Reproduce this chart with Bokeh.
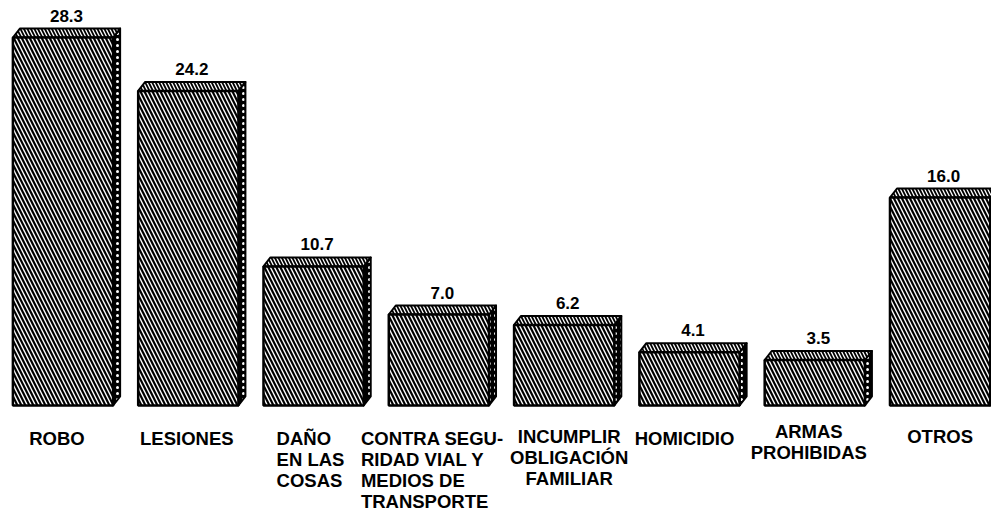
from bokeh.plotting import figure
from bokeh.models import ColumnDataSource
from bokeh.core.properties import value
from bokeh.embed import file_html
from bokeh.resources import INLINE

# ---- data ----
categories = [
    "ROBO",
    "LESIONES",
    "DAÑO\nEN LAS\nCOSAS",
    "CONTRA SEGU-\nRIDAD  VIAL Y\nMEDIOS DE\nTRANSPORTE",
    "INCUMPLIR\nOBLIGACIÓN\nFAMILIAR",
    "HOMICIDIO",
    "ARMAS\nPROHIBIDAS",
    "OTROS",
]
values = [28.3, 24.2, 10.7, 7.0, 6.2, 4.1, 3.5, 16.0]
value_labels = [f"{v:.1f}" for v in values]

# ---- label layout (style, not data) ----
label_align = ["center", "center", "left", "left", "center", "center", "center", "center"]
label_dx = [-6, -1.5, -37, -78, 5, -5, -6, 0]
label_dy = [0, 0, 0, 0, -2, 0, -7, -2]

# ---- geometry of the pseudo-3D boxes ----
PX_X = 125.3          # pixels per x unit
PX_Y = 13.0           # pixels per value unit
W, H = 991, 519
X0 = 62.5             # pixel centre of first bar
BASE = 405            # pixel row of the base line
half_w = 0.4
dx = 7 / PX_X
dy = 9 / PX_Y

xs = list(range(len(values)))

p = figure(width=W, height=H,
           x_range=(-X0 / PX_X, (W - X0) / PX_X),
           y_range=(-(H - BASE) / PX_Y, BASE / PX_Y),
           output_backend="svg", toolbar_location=None,
           x_axis_location=None, y_axis_location=None,
           min_border=0)
p.grid.visible = False
p.outline_line_color = None
p.background_fill_color = "white"

side_xs, side_ys, top_xs, top_ys = [], [], [], []
for x, v in zip(xs, values):
    x0, x1 = x - half_w, x + half_w
    side_xs.append([x1, x1 + dx, x1 + dx, x1])
    side_ys.append([0, dy, v + dy, v])
    top_xs.append([x0, x0 + dx, x1 + dx, x1])
    top_ys.append([v, v + dy, v + dy, v])

p.patches(side_xs, side_ys, fill_color="black", hatch_pattern=".",
          hatch_color="white", hatch_scale=6, hatch_weight=2,
          line_color="black", line_width=2, line_join="round")
p.patches(top_xs, top_ys, fill_color="white", hatch_pattern="\\",
          hatch_color="black", hatch_scale=7, hatch_weight=1.8,
          line_color="black", line_width=2, line_join="round")

src = ColumnDataSource(dict(x=xs, top=values, lab=value_labels,
                            lx=[x + dx / 2 for x in xs],
                            ly=[v + dy for v in values]))
p.vbar(x="x", top="top", bottom=0, width=2 * half_w, source=src,
       fill_color="white", hatch_pattern="\\", hatch_color="black",
       hatch_scale=8, hatch_weight=2.2, line_color="black", line_width=2.5)

p.text(x="lx", y="ly", text="lab", source=src, text_align="center",
       text_baseline="bottom", y_offset=-7,
       text_font=value("Liberation Sans"), text_font_style="bold",
       text_font_size="17px", text_color="black")

csrc = ColumnDataSource(dict(x=xs, y=[0] * len(xs), t=categories,
                             align=label_align, xo=label_dx,
                             yo=[22 + d for d in label_dy]))
p.text(x="x", y="y", text="t", source=csrc, text_align="align",
       text_baseline="top", x_offset="xo", y_offset="yo",
       text_font=value("Liberation Sans"), text_font_style="bold",
       text_font_size="18.5px", text_line_height=1.0, text_color="black")

open("out.html", "w").write(file_html(p, INLINE))
